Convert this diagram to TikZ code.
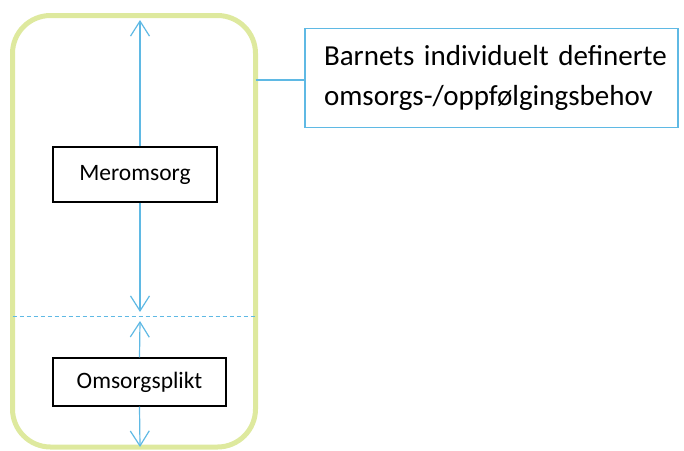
\documentclass[tikz,border=0pt]{standalone}
\usepackage{fontspec}
\setmainfont{Carlito}
\usepackage{tikz}
\usetikzlibrary{arrows.meta}
\definecolor{framegreen}{RGB}{222,233,158}
\definecolor{lineblue}{RGB}{95,185,228}
\tikzstyle{levelbox} = [draw=black, line width=1.3pt, fill=white,
    rectangle, font=\fontsize{23.5}{28}\selectfont, inner sep=0pt]
\tikzstyle{needbox} = [draw=lineblue, line width=1.2pt, rectangle,
    font=\fontsize{29}{40}\selectfont, align=left, inner sep=0pt]
\tikzstyle{bluearrow} = [draw=lineblue, line width=1.2pt,
    -{Straight Barb[length=15pt,width=19pt,line width=1.2pt]}]

\begin{document}
\begin{tikzpicture}[x=1pt,y=-1pt]
                \useasboundingbox (0,0) rectangle (684,450);
                % frame and levels
                \draw[framegreen, line width=5pt, rounded corners=38pt]
                    (12.5,15.5) rectangle (255.5,447);
                \coordinate (top) at (140,20);
                \coordinate (dashL) at (12.5,316.5);
                \coordinate (dashR) at (255.5,316.5);
                \draw[lineblue, line width=1pt, dash pattern=on 4pt off 3pt] (dashL) -- (dashR);
                \node[levelbox, minimum width=164pt, minimum height=55pt] (mer) at (135,174.5) {Meromsorg};
                \node[levelbox, minimum width=173pt, minimum height=48pt] (plikt) at (139.5,382) {Omsorgsplikt};
                \coordinate (merend) at (140,312);
                \coordinate (pliktup) at (140,321);
                \coordinate (pliktdown) at (140,447);
                \draw[bluearrow] (mer.north -| top) -- (top);
                \draw[bluearrow] (mer.south -| top) -- (merend);
                \draw[bluearrow] (plikt.north) -- (pliktup);
                \draw[bluearrow] (plikt.south) -- (pliktdown);
                % needs box
                \node[needbox, minimum width=373pt, minimum height=99pt, text width=353pt] (behov) at (491.5,78)
                    {\hspace*{9pt}Barnets individuelt definerte\\\hspace*{9pt}omsorgs-/oppfølgingsbehov};
                \draw[lineblue, line width=1.2pt] (255.5,80) coordinate (frameE) -- (frameE -| behov.west);
            \end{tikzpicture}
\end{document}
